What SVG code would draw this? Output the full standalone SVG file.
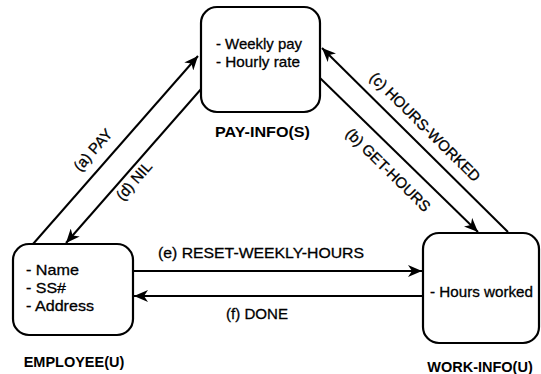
<svg xmlns="http://www.w3.org/2000/svg" width="541" height="374" viewBox="0 0 541 374">
<style>
.box{fill:#fff;stroke:#000;stroke-width:2.2}
.t{font-family:"Liberation Sans",Arial,sans-serif;font-size:15px;fill:#000;stroke:#000;stroke-width:0.3}
.b{font-family:"Liberation Sans",Arial,sans-serif;font-size:14.5px;font-weight:bold;fill:#000}
.c{stroke:#000;stroke-width:2;fill:none}
</style>
<defs>
<marker id="ah" markerWidth="16" markerHeight="12" refX="14" refY="6" orient="auto" markerUnits="userSpaceOnUse">
<path d="M0,0 L14,6 L0,12 L4,6 Z" fill="#000"/>
</marker>
</defs>
<rect width="541" height="374" fill="#fff"/>
<g id="connectors">
<line class="c" x1="33" y1="244" x2="198" y2="56" marker-end="url(#ah)"/>
<line class="c" x1="202" y1="88" x2="66" y2="243" marker-end="url(#ah)"/>
<line class="c" x1="508" y1="232" x2="322" y2="48" marker-end="url(#ah)"/>
<line class="c" x1="320" y1="78" x2="478" y2="232" marker-end="url(#ah)"/>
<line class="c" x1="133" y1="271" x2="422" y2="271" marker-end="url(#ah)"/>
<line class="c" x1="423" y1="296" x2="134" y2="296" marker-end="url(#ah)"/>
<text class="t" text-anchor="middle" transform="translate(93,150) rotate(-48.7)" x="0" y="5">(a) PAY</text>
<text class="t" text-anchor="middle" transform="translate(134,181) rotate(-48.7)" x="0" y="5">(d) NIL</text>
<text class="t" text-anchor="middle" transform="translate(425,127) rotate(44.7)" x="0" y="5">(c) HOURS-WORKED</text>
<text class="t" text-anchor="middle" transform="translate(388,170) rotate(44.5)" x="0" y="5">(b) GET-HOURS</text>
<text class="t" x="158" y="258" textLength="206" lengthAdjust="spacingAndGlyphs">(e) RESET-WEEKLY-HOURS</text>
<text class="t" x="226" y="319" textLength="62" lengthAdjust="spacingAndGlyphs">(f) DONE</text>
</g>
<g id="pay-info">
<rect class="box" x="201" y="7" width="119" height="105" rx="16"/>
<text class="t" x="216" y="49" textLength="86" lengthAdjust="spacingAndGlyphs">- Weekly pay</text>
<text class="t" x="216" y="67" textLength="84" lengthAdjust="spacingAndGlyphs">- Hourly rate</text>
<text class="b" x="215" y="137" textLength="95" lengthAdjust="spacingAndGlyphs">PAY-INFO(S)</text>
</g>
<g id="employee">
<rect class="box" x="13" y="244" width="120" height="91" rx="16"/>
<text class="t" x="26" y="275" textLength="53" lengthAdjust="spacingAndGlyphs">- Name</text>
<text class="t" x="26" y="293" textLength="40" lengthAdjust="spacingAndGlyphs">- SS#</text>
<text class="t" x="26" y="311" textLength="68" lengthAdjust="spacingAndGlyphs">- Address</text>
<text class="b" x="74" y="367" text-anchor="middle">EMPLOYEE(U)</text>
</g>
<g id="work-info">
<rect class="box" x="423" y="233" width="116" height="110" rx="16"/>
<text class="t" x="430" y="297" textLength="103" lengthAdjust="spacingAndGlyphs">- Hours worked</text>
<text class="b" x="480" y="372" text-anchor="middle">WORK-INFO(U)</text>
</g>
</svg>
